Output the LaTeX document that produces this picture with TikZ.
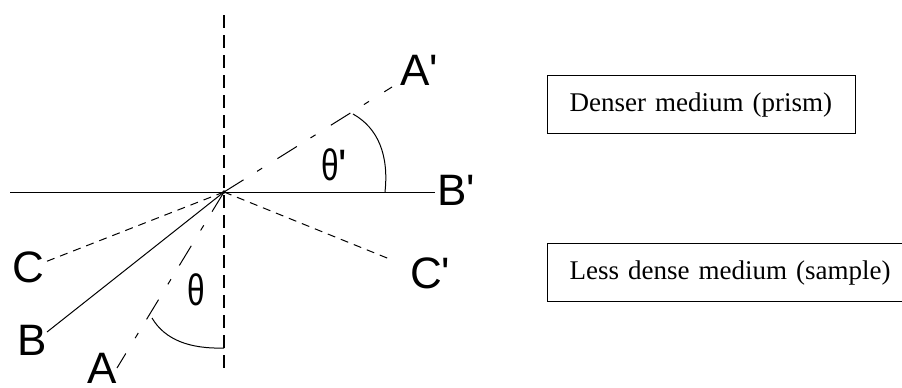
\documentclass[tikz,border=0pt]{standalone}
\usepackage{fontspec}
\usepackage{graphicx}
\setmainfont{Liberation Serif}
\newfontfamily\labfont[Ligatures=TeXOff]{Liberation Sans}
\tikzset{
  ray/.style={line width=1pt},
  longdash/.style={ray, dash pattern=on 23pt off 16pt on 6pt off 18pt},
  shortdash/.style={ray, dash pattern=on 8pt off 6pt},
  normal/.style={line width=1.3pt, dash pattern=on 13pt off 7pt},
  lab/.style={inner sep=0pt, anchor=base west, font=\labfont\fontsize{44}{44}\selectfont},
  medium/.style={draw, line width=1.2pt, anchor=north west, inner xsep=22pt, inner ysep=0pt,
    minimum height=58pt, align=left, font=\fontsize{27}{30}\selectfont}
}
\begin{document}
\begin{tikzpicture}[x=1pt,y=-1pt]
\useasboundingbox (0,0) rectangle (902,388);
\clip (0,0) rectangle (902,388);
\coordinate (O) at (224,192);
\coordinate (Ntop) at (224,15);
\coordinate (Nbot) at (224,368);
\coordinate (Lend) at (10,192);
\coordinate (Aend) at (117,368);
\coordinate (Bend) at (47,332);
\coordinate (Cend) at (45,262);
\coordinate (Apend) at (392,87);
\coordinate (Cpend) at (392,260);
\coordinate (Bpend) at (435,192);
% labels
\node[lab] (A) at (87,383) {A};
\node[lab] (B) at (17,355) {B};
\node[lab] (C) at (12,282) {C};
\node[lab] (Ap) at (400,85) {A'};
\node[lab] (Bp) at (437,205) {B'};
\node[lab] (Cp) at (410,288) {C'};
\node[lab] (th) at (187,305) {\scalebox{0.72}[1]{θ}};
\node[lab] (thp) at (321,180) {\scalebox{0.72}[1]{θ}'};
% lines
\draw[normal] (Ntop) -- (Nbot);
\draw[ray] (Lend) -- (Bpend);
\draw[ray] (O) -- (Bend);
\draw[longdash] (O) -- (Aend);
\draw[longdash] (O) -- (Apend);
\draw[shortdash] (O) -- (Cend);
\draw[shortdash] (O) -- (Cpend);
\fill (O) circle (1.8pt);
% angle arcs
\draw[ray] (224,348) .. controls (190,349) and (165,340) .. (152,318);
\draw[ray] (385,192) .. controls (389,155) and (378,128) .. (353,114);
% boxes
\node[medium, minimum width=308pt, text width=264pt] (dense) at (547,75) {Denser medium (prism)};
\node[medium, minimum width=370pt, text width=326pt] (less) at (547,243) {Less dense medium (sample)};
\end{tikzpicture}
\end{document}
